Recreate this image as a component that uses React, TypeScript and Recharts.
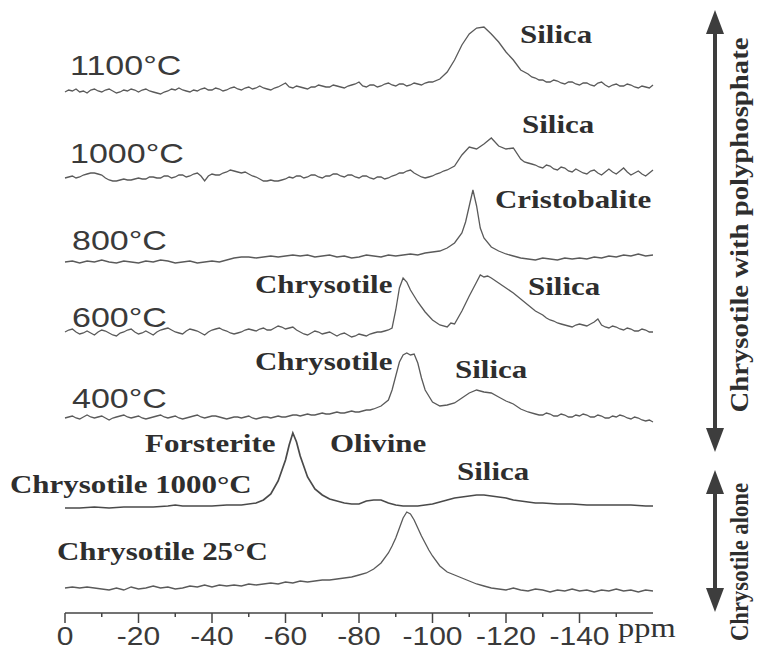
import { Line, LineChart, XAxis, YAxis } from "recharts";

// 29Si NMR spectra, stacked. x = chemical shift (ppm), y = intensity in px above each trace's baseline
const WIDTH = 762;
const HEIGHT = 651;
const AXIS_Y = 613;

const ticks = [0, -10, -20, -30, -40, -50, -60, -70, -80, -90, -100, -110, -120, -130, -140, -150];

const traceNames = ["1100°C", "1000°C", "800°C", "600°C", "400°C", "Chrysotile 1000°C", "Chrysotile 25°C"];
const baselines = [92, 179, 262, 332, 418, 508, 588];

const t1100: [number, number][] = [
  [0, 0], [-1, 2], [-2, 1], [-3, 3], [-4, 0], [-5, 1], [-6, -1], [-7, 2], [-8, 3], [-9, 1],
  [-10, 0], [-11, 2], [-12, 3], [-13, 1], [-14, -1], [-15, 0], [-16, 2], [-17, 1], [-18, 3], [-19, 2],
  [-20, 0], [-21, 2], [-22, 3], [-23, 1], [-24, 0], [-25, -1], [-26, -2], [-27, 0], [-28, 1], [-29, 3],
  [-30, 2], [-31, 4], [-32, 2], [-33, 1], [-34, 0], [-35, 2], [-36, 1], [-37, 3], [-38, 4], [-39, 2],
  [-40, 2], [-41, 4], [-42, 3], [-43, 1], [-44, 2], [-45, 4], [-46, 5], [-47, 3], [-48, 2], [-49, 4],
  [-50, 5], [-51, 3], [-52, 4], [-53, 6], [-54, 4], [-55, 3], [-56, 2], [-57, 4], [-58, 5], [-59, 7],
  [-60, 9], [-61, 5], [-62, 4], [-63, 6], [-64, 5], [-65, 4], [-66, 3], [-67, 5], [-68, 5], [-69, 7],
  [-70, 6], [-71, 5], [-72, 5], [-73, 7], [-74, 6], [-75, 5], [-76, 4], [-77, 6], [-78, 7], [-79, 8],
  [-80, 10], [-81, 6], [-82, 5], [-83, 7], [-84, 7], [-85, 5], [-86, 6], [-87, 8], [-88, 9], [-89, 7],
  [-90, 6], [-91, 8], [-92, 8], [-93, 6], [-94, 7], [-95, 9], [-96, 8], [-97, 7], [-98, 9], [-99, 10],
  [-100, 10], [-102, 13], [-104, 20], [-106, 32], [-108, 47], [-110, 58], [-112, 64], [-114, 65], [-116, 58], [-118, 50],
  [-120, 40], [-122, 32], [-124, 22], [-126, 18], [-127, 15], [-128, 14], [-129, 12], [-130, 12], [-131, 10], [-132, 10],
  [-133, 12], [-134, 11], [-135, 9], [-136, 8], [-137, 10], [-138, 10], [-139, 8], [-140, 7], [-141, 9], [-142, 9],
  [-143, 7], [-144, 6], [-145, 9], [-146, 10], [-147, 7], [-148, 5], [-149, 7], [-150, 8], [-151, 6], [-152, 6],
  [-153, 8], [-154, 7], [-155, 5], [-156, 4], [-157, 6], [-158, 5], [-159, 4], [-160, 7],
];

const t1000: [number, number][] = [
  [0, 1], [-1, 2], [-2, 3], [-3, 1], [-4, 2], [-5, 4], [-6, 5], [-7, 6], [-8, 6], [-9, 5],
  [-10, 4], [-11, 1], [-12, -1], [-13, -2], [-14, -2], [-15, -1], [-16, 0], [-17, -1], [-18, -1], [-19, 0],
  [-20, 1], [-21, 0], [-22, 0], [-23, 2], [-24, 2], [-25, 1], [-26, 1], [-27, 3], [-28, 3], [-29, 1],
  [-30, 2], [-31, 4], [-32, 4], [-33, 2], [-34, 3], [-35, 5], [-36, 6], [-37, 3], [-38, -2], [-39, 3],
  [-40, 5], [-41, 4], [-42, 4], [-43, 6], [-44, 7], [-45, 9], [-46, 8], [-47, 7], [-48, 6], [-49, 7],
  [-50, 5], [-51, 3], [-52, 2], [-53, 0], [-54, -2], [-55, -2], [-56, -1], [-57, -2], [-58, -2], [-59, -1],
  [-60, 0], [-61, 2], [-62, 1], [-63, 3], [-64, 3], [-65, 1], [-66, 2], [-67, 4], [-68, 4], [-69, 2],
  [-70, 1], [-71, 3], [-72, 3], [-73, 5], [-74, 5], [-75, 3], [-76, 2], [-77, 4], [-78, 4], [-79, 2],
  [-80, 1], [-81, 3], [-82, 3], [-83, 1], [-84, 0], [-85, 2], [-86, 2], [-87, 0], [-88, 1], [-89, 3],
  [-90, 4], [-91, 6], [-92, 6], [-93, 8], [-94, 9], [-95, 6], [-96, 4], [-97, 2], [-98, 1], [-99, 2],
  [-100, 3], [-101, 5], [-102, 6], [-103, 8], [-104, 9], [-106, 13], [-108, 24], [-110, 32], [-112, 30], [-114, 35],
  [-116, 41], [-118, 33], [-120, 30], [-122, 31], [-124, 20], [-125, 17], [-126, 16], [-127, 15], [-128, 14], [-129, 12],
  [-130, 11], [-131, 14], [-132, 13], [-133, 10], [-134, 9], [-135, 12], [-136, 11], [-137, 8], [-138, 7], [-139, 10],
  [-140, 8], [-141, 6], [-142, 5], [-143, 8], [-144, 9], [-145, 6], [-146, 4], [-147, 7], [-148, 10], [-149, 7],
  [-150, 5], [-151, 8], [-152, 11], [-153, 7], [-154, 4], [-155, 6], [-156, 8], [-157, 5], [-158, 3], [-159, 6], [-160, 9],
];

const t800: [number, number][] = [
  [0, 0], [-2, 1], [-4, -1], [-6, 1], [-8, 0], [-10, 2], [-12, 0], [-14, -1], [-16, 1], [-18, 0],
  [-20, -1], [-22, 1], [-24, 0], [-26, 2], [-28, 1], [-30, -1], [-32, 0], [-34, 1], [-36, -1], [-38, 0],
  [-40, 1], [-42, 0], [-44, 2], [-46, 4], [-48, 5], [-50, 5], [-52, 4], [-54, 5], [-56, 6], [-58, 5],
  [-60, 6], [-62, 7], [-64, 6], [-66, 7], [-68, 5], [-70, 6], [-72, 7], [-74, 5], [-76, 6], [-78, 4],
  [-80, 5], [-82, 7], [-84, 6], [-86, 5], [-88, 7], [-90, 6], [-92, 7], [-94, 8], [-96, 7], [-98, 9],
  [-100, 10], [-102, 11], [-104, 14], [-106, 19], [-108, 29], [-109, 40], [-110, 56], [-111, 72], [-112, 56], [-113, 34],
  [-114, 24], [-116, 15], [-118, 11], [-120, 8], [-122, 6], [-124, 4], [-126, 3], [-128, 2], [-130, 4], [-132, 3],
  [-134, 2], [-136, 4], [-138, 3], [-140, 4], [-142, 3], [-144, 5], [-146, 4], [-148, 6], [-150, 5], [-152, 7],
  [-154, 6], [-156, 8], [-158, 6], [-160, 7],
];

const t600: [number, number][] = [
  [0, 0], [-1, 2], [-2, 3], [-3, 0], [-4, -2], [-5, -1], [-6, 1], [-7, -1], [-8, -3], [-9, 0],
  [-10, 2], [-11, 1], [-12, -1], [-13, -3], [-14, -4], [-15, -1], [-16, 0], [-17, 2], [-18, 3], [-19, 0],
  [-20, -2], [-21, -1], [-22, 1], [-23, -1], [-24, -3], [-25, 0], [-26, 2], [-27, 3], [-28, 4], [-29, 2],
  [-30, 0], [-31, -1], [-32, -2], [-33, 1], [-34, 3], [-35, 2], [-36, 1], [-37, -1], [-38, -3], [-39, 0],
  [-40, 2], [-41, 3], [-42, 4], [-43, 2], [-44, 1], [-45, -1], [-46, -2], [-47, -1], [-48, 0], [-49, 2],
  [-50, 3], [-51, 2], [-52, 1], [-53, 3], [-54, 4], [-55, 2], [-56, 2], [-57, 4], [-58, 6], [-59, 5],
  [-60, 3], [-61, 4], [-62, 5], [-63, 2], [-64, 0], [-65, -2], [-66, -3], [-67, -1], [-68, 1], [-69, 0],
  [-70, -2], [-71, -1], [-72, 0], [-73, -2], [-74, -4], [-75, -2], [-76, -1], [-77, -3], [-78, -5], [-79, -4],
  [-80, -2], [-81, -3], [-82, -4], [-83, -2], [-84, -1], [-85, 0], [-86, 0], [-87, 1], [-88, 2], [-89, 4],
  [-90, 22], [-91, 44], [-92, 54], [-93, 50], [-94, 42], [-96, 30], [-98, 20], [-100, 12], [-102, 7], [-104, 5],
  [-105, 9], [-106, 8], [-108, 21], [-110, 36], [-112, 50], [-113, 57], [-114, 55], [-115, 56], [-116, 54], [-118, 49],
  [-120, 44], [-122, 39], [-124, 33], [-126, 27], [-128, 21], [-130, 17], [-131, 14], [-132, 12], [-133, 11], [-134, 9],
  [-135, 8], [-136, 7], [-137, 6], [-138, 5], [-139, 7], [-140, 8], [-141, 7], [-142, 6], [-143, 8], [-144, 10],
  [-145, 13], [-146, 7], [-147, 5], [-148, 4], [-149, 6], [-150, 5], [-151, 3], [-152, 2], [-153, 4], [-154, 3],
  [-155, 1], [-156, 1], [-157, 3], [-158, 2], [-159, 0], [-160, 0],
];

const t400: [number, number][] = [
  [0, 0], [-1, 1], [-2, 2], [-3, 0], [-4, -1], [-5, 1], [-6, 3], [-7, 1], [-8, 0], [-9, 1],
  [-10, 2], [-11, 0], [-12, -2], [-13, 0], [-14, 1], [-15, 2], [-16, 3], [-17, 1], [-18, 0], [-19, 1],
  [-20, 2], [-21, 0], [-22, -1], [-23, 0], [-24, 1], [-25, 2], [-26, 3], [-27, 1], [-28, 0], [-29, 1],
  [-30, 2], [-31, 0], [-32, -1], [-33, 0], [-34, 1], [-35, 2], [-36, 3], [-37, 1], [-38, 0], [-39, 1],
  [-40, 2], [-41, 2], [-42, 1], [-43, 0], [-44, -1], [-45, 0], [-46, 1], [-47, 1], [-48, 0], [-49, 1],
  [-50, 2], [-51, 0], [-52, -1], [-53, 0], [-54, 1], [-55, 1], [-56, 0], [-57, 1], [-58, 2], [-59, 1],
  [-60, 1], [-61, 2], [-62, 3], [-63, 3], [-64, 2], [-65, 3], [-66, 4], [-67, 3], [-68, 3], [-69, 4],
  [-70, 5], [-71, 4], [-72, 4], [-73, 5], [-74, 6], [-75, 5], [-76, 5], [-77, 6], [-78, 7], [-79, 6],
  [-80, 6], [-81, 7], [-82, 8], [-83, 8], [-84, 9], [-86, 12], [-88, 18], [-89, 28], [-90, 42], [-91, 56],
  [-92, 63], [-93, 65], [-94, 63], [-95, 64], [-96, 55], [-97, 40], [-98, 28], [-100, 16], [-102, 12], [-104, 13],
  [-106, 15], [-108, 20], [-110, 25], [-112, 28], [-114, 26], [-116, 25], [-118, 21], [-120, 17], [-122, 14], [-124, 9],
  [-126, 6], [-128, 4], [-129, 3], [-130, 3], [-131, 5], [-132, 4], [-133, 2], [-134, 2], [-135, 4], [-136, 3],
  [-137, 1], [-138, 1], [-139, 3], [-140, 2], [-141, 4], [-142, 3], [-143, 1], [-144, 1], [-145, 3], [-146, 2],
  [-147, 0], [-148, 0], [-149, 2], [-150, 1], [-151, 3], [-152, 2], [-153, 0], [-154, -1], [-155, 1], [-156, 0],
  [-157, -2], [-158, -3], [-159, -2], [-160, -4],
];

const tChry1000: [number, number][] = [
  [0, 0], [-4, 0], [-8, 1], [-12, 0], [-16, 1], [-20, 1], [-24, 1], [-28, 2], [-30, 3], [-32, 2],
  [-36, 2], [-40, 2], [-44, 3], [-48, 3], [-52, 5], [-54, 8], [-56, 14], [-58, 27], [-60, 48], [-61, 63],
  [-62, 75], [-63, 66], [-64, 52], [-66, 31], [-68, 19], [-70, 13], [-72, 9], [-74, 7], [-76, 5], [-78, 4],
  [-80, 4], [-82, 7], [-84, 8], [-86, 8], [-88, 5], [-90, 3], [-92, 2], [-94, 2], [-96, 2], [-98, 3],
  [-100, 4], [-102, 6], [-104, 8], [-106, 10], [-108, 11], [-110, 12], [-112, 13], [-114, 13], [-116, 12], [-118, 11],
  [-120, 10], [-122, 8], [-124, 7], [-126, 6], [-128, 5], [-130, 5], [-134, 4], [-138, 4], [-142, 3], [-146, 3],
  [-150, 3], [-154, 3], [-158, 2], [-160, 2],
];

const tChry25: [number, number][] = [
  [0, 0], [-2, 1], [-4, 0], [-6, 1], [-8, 0], [-10, -1], [-12, -2], [-14, 0], [-16, -2], [-18, 1],
  [-20, -1], [-22, 0], [-24, 2], [-26, 0], [-28, 1], [-30, -1], [-32, 0], [-34, 2], [-36, 1], [-38, 3],
  [-40, 1], [-42, 3], [-44, 2], [-46, 3], [-48, 2], [-50, 4], [-52, 3], [-54, 4], [-56, 5], [-58, 4],
  [-60, 6], [-62, 5], [-64, 7], [-66, 6], [-68, 7], [-70, 8], [-72, 8], [-74, 9], [-76, 10], [-78, 11],
  [-80, 13], [-82, 15], [-84, 19], [-86, 25], [-88, 35], [-89, 42], [-90, 50], [-91, 60], [-92, 70], [-93, 76],
  [-94, 74], [-95, 68], [-96, 60], [-97, 52], [-98, 45], [-99, 38], [-100, 32], [-102, 22], [-104, 16], [-106, 13],
  [-108, 10], [-110, 7], [-112, 4], [-114, 2], [-116, 0], [-118, -1], [-120, -2], [-122, 0], [-124, -2], [-126, -3],
  [-128, -1], [-130, -2], [-132, -4], [-134, -2], [-136, -3], [-138, -1], [-140, -3], [-142, -2], [-144, -4], [-146, -2],
  [-148, -3], [-150, -1], [-152, -3], [-154, -2], [-156, -4], [-158, -2], [-160, -3],
];

const traces = [t1100, t1000, t800, t600, t400, tChry1000, tChry25];

// annotations: [text, x, baseline y]
const tempLabels: [string, number, number][] = [
  ["1100°C", 70, 75],
  ["1000°C", 70, 163],
  ["800°C", 72, 250],
  ["600°C", 72, 327],
  ["400°C", 72, 408],
];

const peakLabels: [string, number, number][] = [
  ["Silica", 520, 43],
  ["Silica", 522, 133],
  ["Cristobalite", 495, 208],
  ["Chrysotile", 255, 293],
  ["Silica", 528, 295],
  ["Chrysotile", 255, 370],
  ["Silica", 455, 378],
  ["Forsterite", 145, 452],
  ["Olivine", 330, 452],
  ["Silica", 457, 480],
  ["Chrysotile 1000°C", 10, 493],
  ["Chrysotile 25°C", 57, 560],
];

const SANS = "'Liberation Sans', Arial, sans-serif";
const SERIF = "'Liberation Serif', 'Times New Roman', serif";

const PpmTick = (props: any) => {
  const { x, y, payload } = props;
  const v = payload.value as number;
  const major = v % 20 === 0;
  return (
    <g>
      <line x1={x} x2={x} y1={y} y2={y + (major ? 10 : 4)} stroke="#444" strokeWidth={1.5} />
      {major && (
        <text
          transform={`translate(${x},${y + 32}) scale(1.2,1)`}
          textAnchor="middle"
          fontFamily={SANS}
          fontSize={25}
          fill="#3a3a3a"
        >
          {v}
        </text>
      )}
    </g>
  );
};

const Arrow = ({ x, y1, y2 }: { x: number; y1: number; y2: number }) => (
  <g fill="#3d3d3d">
    <line x1={x} x2={x} y1={y1 + 18} y2={y2 - 18} stroke="#3d3d3d" strokeWidth={4} />
    <polygon points={`${x},${y1} ${x - 9},${y1 + 24} ${x + 9},${y1 + 24}`} />
    <polygon points={`${x},${y2} ${x - 9},${y2 - 24} ${x + 9},${y2 - 24}`} />
  </g>
);

export default function App() {
  return (
    <div style={{ position: "absolute", left: 0, top: 0, width: WIDTH, height: HEIGHT, background: "#fff" }}>
      <LineChart width={WIDTH} height={HEIGHT} margin={{ top: 0, right: 109, bottom: 0, left: 65 }}>
        <XAxis
          dataKey="ppm"
          type="number"
          domain={[-160, 0]}
          reversed
          ticks={ticks}
          interval={0}
          tick={PpmTick}
          tickLine={false}
          tickSize={0}
          tickMargin={0}
          height={HEIGHT - AXIS_Y}
          axisLine={{ stroke: "#444", strokeWidth: 1.5 }}
        />
        <YAxis hide type="number" domain={[0, AXIS_Y]} />
        {traces.map((t, i) => (
          <Line
            key={traceNames[i]}
            name={traceNames[i]}
            data={t.map(([ppm, v]) => ({ ppm, v: AXIS_Y - baselines[i] + v }))}
            dataKey="v"
            type="linear"
            dot={false}
            stroke={i === 5 ? "#4a4a4a" : "#5a5a5a"}
            strokeWidth={i === 5 ? 1.7 : 1.3}
            isAnimationActive={false}
          />
        ))}
      </LineChart>
      <svg
        width={WIDTH}
        height={HEIGHT}
        style={{ position: "absolute", left: 0, top: 0, pointerEvents: "none" }}
      >
        {tempLabels.map(([t, x, y]) => (
          <text
            key={t}
            transform={`translate(${x},${y}) scale(1.26,1)`}
            fontFamily={SANS}
            fontSize={27}
            fill="#3a3a3a"
          >
            {t}
          </text>
        ))}
        {peakLabels.map(([t, x, y], i) => (
          <text
            key={i}
            transform={`translate(${x},${y}) scale(1.19,1)`}
            fontFamily={SERIF}
            fontWeight="bold"
            fontSize={26}
            fill="#2e2e2e"
          >
            {t}
          </text>
        ))}
        <text transform="translate(618,637) scale(1.2,1)" fontFamily={SERIF} fontSize={27} fill="#333">
          ppm
        </text>
        <Arrow x={715} y1={10} y2={452} />
        <Arrow x={715} y1={470} y2={612} />
        <text
          transform="translate(748,225) rotate(-90)"
          textAnchor="middle"
          fontFamily={SERIF}
          fontWeight="bold"
          fontSize={25}
          fill="#2e2e2e"
          textLength={375}
          lengthAdjust="spacingAndGlyphs"
        >
          Chrysotile with  polyphosphate
        </text>
        <text
          transform="translate(748,562) rotate(-90)"
          textAnchor="middle"
          fontFamily={SERIF}
          fontWeight="bold"
          fontSize={25}
          fill="#2e2e2e"
          textLength={158}
          lengthAdjust="spacingAndGlyphs"
        >
          Chrysotile alone
        </text>
      </svg>
    </div>
  );
}
